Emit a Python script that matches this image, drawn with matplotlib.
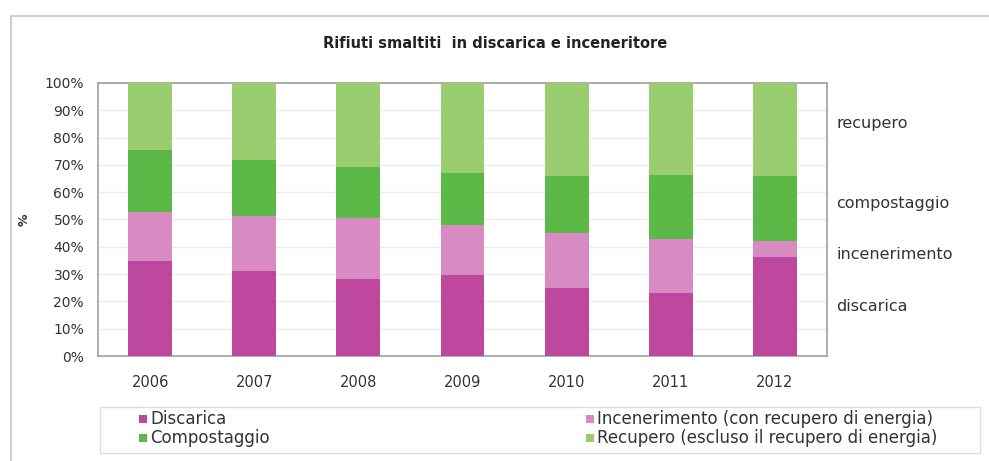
import matplotlib
matplotlib.use("Agg")
import matplotlib.pyplot as plt
from matplotlib.patches import Rectangle
from matplotlib.lines import Line2D
import numpy as np

plt.rcParams['font.family'] = ['DejaVu Sans']

years = ["2006", "2007", "2008", "2009", "2010", "2011", "2012"]
discarica = [34.8, 31.3, 28.3, 29.8, 24.8, 23.2, 36.4]
incenerimento = [18.0, 20.1, 22.4, 18.2, 20.1, 19.5, 5.8]
compostaggio = [22.7, 20.4, 18.7, 19.1, 21.0, 23.6, 23.8]
recupero = [24.5, 28.2, 30.6, 32.9, 34.1, 33.7, 34.0]

series_names = ["Discarica", "Incenerimento (con recupero di energia)",
                "Compostaggio", "Recupero (escluso il recupero di energia)"]
colors = ["#bf489f", "#d88bc2", "#5cb947", "#9acd6f"]
right_labels = ["discarica", "incenerimento", "compostaggio", "recupero"]
right_label_y = [18, 37, 56, 85]

W, H = 989, 461
fig = plt.figure(figsize=(W / 100, H / 100), dpi=100)

# outer frame (left + top lines)
fig.add_artist(Line2D([11 / W, 11 / W], [0, 1 - 16 / H], transform=fig.transFigure,
                      color="#d0d0d0", lw=1.5))
fig.add_artist(Line2D([11 / W, 1], [1 - 16 / H, 1 - 16 / H], transform=fig.transFigure,
                      color="#d0d0d0", lw=1.5))

ax = fig.add_axes([98 / W, 1 - 356 / H, 729 / W, 273 / H])
x = np.arange(len(years))
bottom = np.zeros(len(years))
data = [discarica, incenerimento, compostaggio, recupero]
for vals, c in zip(data, colors):
    ax.bar(x, vals, width=0.42, bottom=bottom, color=c, zorder=3)
    bottom += np.array(vals)

ax.set_xlim(-0.5, len(years) - 0.5)
ax.set_ylim(0, 100)
ax.set_yticks(np.arange(0, 101, 10))
ax.set_yticklabels([f"{v}%" for v in range(0, 101, 10)], fontsize=10, color="#333333")
ax.set_xticks(x)
ax.set_xticklabels(years, fontsize=10.5, color="#333333")
ax.tick_params(axis='both', length=0, pad=10)
ax.tick_params(axis='x', pad=14)
ax.yaxis.grid(True, color="#ececec", lw=1, zorder=0)
for s in ax.spines.values():
    s.set_color("#a0a0a0")
    s.set_linewidth(1.2)
ax.set_ylabel("%", fontsize=9, fontweight="bold", color="#333333", labelpad=10)

for lab, yv in zip(right_labels, right_label_y):
    ax.text(1.013, yv / 100, lab, transform=ax.transAxes, fontsize=11.5,
            color="#333333", va="center", ha="left")

fig.text(495 / W, 1 - 44 / H, "Rifiuti smaltiti  in discarica e inceneritore",
         ha="center", va="center", fontsize=10.5, fontweight="bold", color="#222222")

# legend box
fig.add_artist(Rectangle((100 / W, 1 - 453 / H), 880 / W, 46 / H, transform=fig.transFigure,
                         fill=False, edgecolor="#dcdcdc", lw=1))
leg_pos = [(143, 419), (590, 419), (143, 438), (590, 438)]
for (px, py), name, c in zip(leg_pos, series_names, colors):
    fig.add_artist(Rectangle(((px - 4) / W, 1 - (py + 4) / H), 8 / W, 8 / H,
                             transform=fig.transFigure, facecolor=c, edgecolor="none"))
    fig.text((px + 7) / W, 1 - py / H, name, ha="left", va="center", fontsize=12,
             color="#333333")

fig.savefig("out.png", dpi=100)
